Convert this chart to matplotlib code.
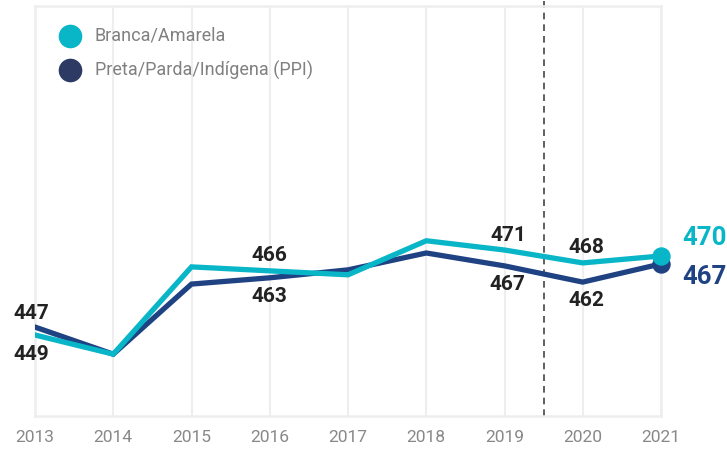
import matplotlib
matplotlib.use("Agg")
import matplotlib.pyplot as plt

years = [2013, 2014, 2015, 2016, 2017, 2018, 2019, 2020, 2021]
branca = [445.5, 439.7, 466.1, 464.9, 463.7, 474.0, 471.2, 467.3, 469.4]
ppi = [447.9, 439.7, 460.9, 462.8, 465.2, 470.3, 466.4, 461.5, 467.0]
series_names = ["Branca/Amarela", "Preta/Parda/Indígena (PPI)"]

# labels: (year index, text, dx px, dy px)
branca_labels = [(0, "449", -4, -20), (3, "466", 0, 15), (6, "471", 4, 15), (7, "468", 4, 15)]
ppi_labels = [(0, "447", -4, 14), (3, "463", 0, -19), (6, "467", 3, -19), (7, "462", 4, -18)]
branca_end = "470"
ppi_end = "467"

c_cyan = "#08b6c8"
c_navy = "#1f4283"
c_navy_legend = "#2d3a64"

plt.rcParams['font.family'] = ['Roboto', 'DejaVu Sans']

fig = plt.figure(figsize=(7.27, 4.5), dpi=100)
ax = fig.add_axes([35/727, 34/450, (661-35)/727, (416-6)/450])
ax.set_xlim(2013, 2021)
ax.set_ylim(421, 545)

for s in ax.spines.values():
    s.set_color("#eeeeee")
    s.set_linewidth(1.8)

ax.set_xticks(years)
ax.set_xticklabels([str(y) for y in years], color="#888888", fontsize=12.5)
ax.set_yticks([])
ax.tick_params(axis='x', length=0, pad=10)
ax.grid(axis='x', color="#eeeeee", linewidth=1.5)
ax.set_axisbelow(True)

ax.plot(years, ppi, color=c_navy, linewidth=3.8, solid_joinstyle='miter', zorder=3)
ax.plot(years, branca, color=c_cyan, linewidth=3.8, solid_joinstyle='miter', zorder=4)
ax.scatter([years[-1]], [ppi[-1]], s=150, color=c_navy, zorder=5, clip_on=False)
ax.scatter([years[-1]], [branca[-1]], s=150, color=c_cyan, zorder=6, clip_on=False)

ax.plot([2019.5, 2019.5], [421, 548], color="#444444", linewidth=1.2,
        linestyle=(0, (4, 3)), clip_on=False, zorder=2)

for vals, labs in ((branca, branca_labels), (ppi, ppi_labels)):
    for i, t, dx, dy in labs:
        ax.annotate(t, (years[i], vals[i]), xytext=(dx, dy), textcoords='offset pixels',
                    ha='center', va='center', fontsize=15, fontweight='bold',
                    color="#222222", zorder=7, annotation_clip=False)

ax.annotate(branca_end, (years[-1], branca[-1]), xytext=(21, 18), textcoords='offset pixels',
            ha='left', va='center', fontsize=18.5, fontweight='bold', color=c_cyan,
            annotation_clip=False)
ax.annotate(ppi_end, (years[-1], ppi[-1]), xytext=(21, -13), textcoords='offset pixels',
            ha='left', va='center', fontsize=18.5, fontweight='bold', color=c_navy,
            annotation_clip=False)

# legend
for yc, col, name in ((36, c_cyan, series_names[0]), (70, c_navy_legend, series_names[1])):
    fig.lines.append(plt.Line2D([70/727], [1 - yc/450], marker='o', markersize=16,
                                color=col, transform=fig.transFigure, linestyle='none'))
    fig.text(95/727, 1 - yc/450, name, ha='left', va='center', fontsize=13, color="#808080")

fig.savefig("out.png", dpi=100)
